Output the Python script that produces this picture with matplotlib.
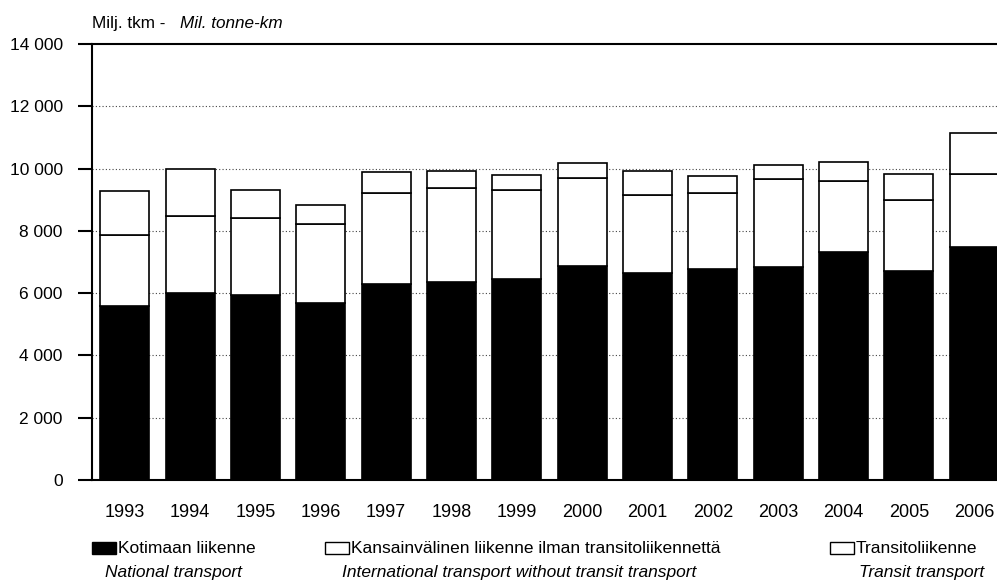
import matplotlib
matplotlib.use("Agg")
import matplotlib.pyplot as plt
from matplotlib.patches import Rectangle
from matplotlib.ticker import FuncFormatter
import numpy as np

plt.rcParams['font.family'] = ['Liberation Sans', 'DejaVu Sans']

years = ['1993', '1994', '1995', '1996', '1997', '1998', '1999',
         '2000', '2001', '2002', '2003', '2004', '2005', '2006']
# segment values, million tonne-km
national = [5590, 6010, 5940, 5690, 6290, 6360, 6450, 6870, 6660, 6760, 6840, 7310, 6710, 7470]
international = [2280, 2470, 2460, 2540, 2930, 3000, 2860, 2820, 2490, 2450, 2810, 2280, 2290, 2350]
transit = [1400, 1490, 900, 600, 670, 570, 490, 480, 780, 540, 480, 610, 810, 1330]

fig = plt.figure(figsize=(9.97, 5.85), dpi=100)
ax = fig.add_axes([0.0923, 0.1795, 0.9077, 0.7453])

x = np.arange(len(years))
w = 0.75
nat = np.array(national)
intl = np.array(international)
tr = np.array(transit)

ax.bar(x, nat, w, color='black', edgecolor='black', linewidth=1.2, zorder=3)
ax.bar(x, intl, w, bottom=nat, color='white', edgecolor='black', linewidth=1.2, zorder=3)
ax.bar(x, tr, w, bottom=nat + intl, color='white', edgecolor='black', linewidth=1.2, zorder=3)

ax.set_xlim(-0.5, 13.35)
ax.set_ylim(0, 14000)
ax.set_yticks(range(0, 14001, 2000))
ax.yaxis.set_major_formatter(FuncFormatter(lambda v, p: f"{int(v):,}".replace(',', ' ')))
ax.set_xticks(x)
ax.set_xticklabels(years, fontsize=13)
ax.tick_params(axis='x', length=0, pad=17)
ax.tick_params(axis='y', length=10, width=1.5, pad=11, labelsize=12.5)

for yv in range(2000, 13000, 2000):
    ax.axhline(yv, color='#444444', linestyle=(0, (1, 2)), linewidth=0.8, zorder=1)

ax.spines['right'].set_visible(False)
ax.spines['top'].set_linewidth(1.5)
ax.spines['left'].set_linewidth(1.5)
ax.spines['bottom'].set_linewidth(1.5)

fig.text(0.0923, 0.960, "Milj. tkm -", fontsize=12.3, ha='left', va='center')
fig.text(0.1805, 0.960, "Mil. tonne-km", fontsize=12.3, ha='left', va='center', style='italic')

# legend: box left, finnish label, english label centre (figure fractions)
legend_items = [
    (0.0923, 'black', "Kotimaan liikenne", "National transport", 0.1745),
    (0.326, 'white', "Kansainvälinen liikenne ilman transitoliikennettä",
     "International transport without transit transport", 0.521),
    (0.8325, 'white', "Transitoliikenne", "Transit transport", 0.924),
]
for lx, col, fi, en, cx in legend_items:
    fig.patches.append(Rectangle((lx, 0.053), 0.0241, 0.0205, transform=fig.transFigure,
                                 facecolor=col, edgecolor='black', linewidth=1))
    fig.text(lx + 0.026, 0.063, fi, fontsize=12.5, ha='left', va='center')
    fig.text(cx, 0.022, en, fontsize=12.5, ha='center', va='center', style='italic')

fig.savefig('out.png', dpi=100)
